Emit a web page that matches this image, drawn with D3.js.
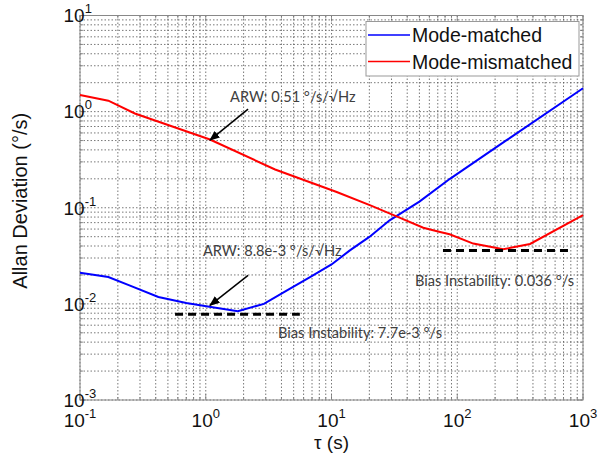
<!DOCTYPE html>
<html>
<head>
<meta charset="utf-8">
<script src="https://cdn.jsdelivr.net/npm/d3@7"></script>
<style>
  body { margin: 0; background: #fff; }
  svg { display: block; font-family: "Liberation Sans", Arial, sans-serif; }
</style>
</head>
<body>
<div id="graphic"></div>
<script>
// Allan deviation data
var tauMatched  = [0.1, 0.168, 0.25, 0.42, 0.7, 1.1, 1.8, 2.9, 4.5, 6.75, 10, 14, 20, 29, 50, 87.5, 247, 1000];
var adevMatched = [0.0211, 0.019, 0.0155, 0.0118, 0.0102, 0.0093, 0.0084, 0.0100, 0.014, 0.019, 0.0257, 0.036, 0.0497, 0.074, 0.116, 0.20, 0.505, 1.75];

var tauMismatched  = [0.1, 0.168, 0.273, 1.08, 3.56, 11, 20.4, 34, 53.7, 73, 87, 134, 232, 379, 1000];
var adevMismatched = [1.49, 1.30, 0.957, 0.513, 0.25, 0.146, 0.106, 0.080, 0.062, 0.056, 0.053, 0.0424, 0.037, 0.042, 0.0836];

var seriesNames = ['Mode-matched', 'Mode-mismatched'];
var seriesColors = ['#0000ff', '#ff0000'];

var xTickExps = [-1, 0, 1, 2, 3];
var yTickExps = [-3, -2, -1, 0, 1];

// bias instability levels (tau range + value)
var biasLines = [
  {tau0: 0.57, tau1: 5.6, value: 0.0078},
  {tau0: 77, tau1: 764, value: 0.036}
];

// annotations, positioned in data coordinates
var notes = [
  {tau: 1.56, value: 1.42, text: 'ARW: 0.51 \u00B0/s/\u221AHz'},
  {tau: 0.95, value: 0.0352, text: 'ARW: 8.8e-3 \u00B0/s/\u221AHz'},
  {tau: 3.76, value: 0.00505, text: 'Bias Instability: 7.7e-3 \u00B0/s'},
  {tau: 46.1, value: 0.01714, text: 'Bias Instability: 0.036 \u00B0/s'}
];
var arrows = [
  {tau0: 2.17, v0: 1.06, tau1: 1.08, v1: 0.505},
  {tau0: 2.17, v0: 0.0198, tau1: 1.08, v1: 0.00964}
];

var W = 613, H = 453;
var margin = {top: 15.5, right: 30, bottom: 53, left: 80};
var width = W - margin.left - margin.right,
    height = H - margin.top - margin.bottom;

var svg = d3.select('#graphic').append('svg')
    .attr('width', W).attr('height', H);

var defs = svg.append('defs');
defs.append('marker')
    .attr('id', 'arrowhead')
    .attr('viewBox', '0 0 10 10')
    .attr('refX', 9).attr('refY', 5)
    .attr('markerWidth', 7).attr('markerHeight', 7)
    .attr('orient', 'auto')
  .append('path')
    .attr('d', 'M0,1 L10,5 L0,9 z')
    .attr('fill', '#000');

var g = svg.append('g')
    .attr('transform', 'translate(' + margin.left + ',' + margin.top + ')');

var x = d3.scaleLog().domain([0.1, 1000]).range([0, width]);
var y = d3.scaleLog().domain([0.001, 10]).range([height, 0]);

// minor + major tick values
var xAll = [], yAll = [];
for (var e = -1; e < 3; e++) for (var k = 1; k < 10; k++) xAll.push(k * Math.pow(10, e));
xAll.push(1000);
for (var e2 = -3; e2 < 1; e2++) for (var k2 = 1; k2 < 10; k2++) yAll.push(k2 * Math.pow(10, e2));
yAll.push(10);

// grid
g.append('g').selectAll('line').data(xAll).enter().append('line')
    .attr('x1', function(d) { return x(d); }).attr('x2', function(d) { return x(d); })
    .attr('y1', 0).attr('y2', height)
    .attr('stroke', '#555').attr('stroke-width', 0.8).attr('stroke-dasharray', '1.5,2');
g.append('g').selectAll('line').data(yAll).enter().append('line')
    .attr('y1', function(d) { return y(d); }).attr('y2', function(d) { return y(d); })
    .attr('x1', 0).attr('x2', width)
    .attr('stroke', '#555').attr('stroke-width', 0.8).attr('stroke-dasharray', '1.5,2');

// inner ticks on all sides
function isMajor(v) { return Math.abs(Math.log10(v) - Math.round(Math.log10(v))) < 1e-9; }
var tk = g.append('g').attr('stroke', '#777').attr('stroke-width', 0.8);
xAll.forEach(function(v) {
  var len = isMajor(v) ? 6 : 3;
  tk.append('line').attr('x1', x(v)).attr('x2', x(v)).attr('y1', height).attr('y2', height - len);
  tk.append('line').attr('x1', x(v)).attr('x2', x(v)).attr('y1', 0).attr('y2', len);
});
yAll.forEach(function(v) {
  var len = isMajor(v) ? 6 : 3;
  tk.append('line').attr('y1', y(v)).attr('y2', y(v)).attr('x1', 0).attr('x2', len);
  tk.append('line').attr('y1', y(v)).attr('y2', y(v)).attr('x1', width).attr('x2', width - len);
});

// frame
g.append('rect')
    .attr('width', width).attr('height', height)
    .attr('fill', 'none').attr('stroke', '#888').attr('stroke-width', 1);

// tick labels
var yLab = g.append('g').selectAll('text').data(yTickExps).enter().append('text')
    .attr('x', -16.5).attr('y', function(d) { return y(Math.pow(10, d)); })
    .attr('dy', '0.36em')
    .attr('font-size', 19).attr('fill', '#111');
yLab.append('tspan').text('10');
yLab.append('tspan').attr('dy', -9).attr('font-size', 13).text(function(d) { return d; });

var xLab = g.append('g').selectAll('text').data(xTickExps).enter().append('text')
    .attr('x', function(d) { return x(Math.pow(10, d)); })
    .attr('y', height + 26.5)
    .attr('text-anchor', 'middle')
    .attr('font-size', 19).attr('fill', '#111');
xLab.append('tspan').text('10');
xLab.append('tspan').attr('dy', -9).attr('font-size', 13).text(function(d) { return d; });

// axis titles
g.append('text')
    .attr('x', width / 2).attr('y', height + 48.5)
    .attr('text-anchor', 'middle')
    .attr('font-size', 19).attr('fill', '#111')
    .text('\u03C4 (s)');
g.append('text')
    .attr('transform', 'rotate(-90)')
    .attr('x', -(height / 2) + 7).attr('y', -53)
    .attr('text-anchor', 'middle')
    .attr('font-size', 20).attr('fill', '#111')
    .text('Allan Deviation (\u00B0/s)');

// curves
var line = d3.line()
    .x(function(d) { return x(d[0]); })
    .y(function(d) { return y(d[1]); });

var series = [d3.zip(tauMatched, adevMatched), d3.zip(tauMismatched, adevMismatched)];
series.forEach(function(s, i) {
  g.append('path')
      .datum(s)
      .attr('fill', 'none')
      .attr('stroke', seriesColors[i])
      .attr('stroke-width', 2)
      .attr('d', line);
});

// bias instability dashed lines
g.append('g').selectAll('line').data(biasLines).enter().append('line')
    .attr('x1', function(d) { return x(d.tau0); }).attr('x2', function(d) { return x(d.tau1); })
    .attr('y1', function(d) { return y(d.value); }).attr('y2', function(d) { return y(d.value); })
    .attr('stroke', '#000').attr('stroke-width', 3).attr('stroke-dasharray', '8,5');

// arrows
g.append('g').selectAll('line').data(arrows).enter().append('line')
    .attr('x1', function(d) { return x(d.tau0); }).attr('y1', function(d) { return y(d.v0); })
    .attr('x2', function(d) { return x(d.tau1); }).attr('y2', function(d) { return y(d.v1); })
    .attr('stroke', '#000').attr('stroke-width', 1.5)
    .attr('marker-end', 'url(#arrowhead)');

// annotation text
g.append('g').selectAll('text').data(notes).enter().append('text')
    .attr('x', function(d) { return x(d.tau); })
    .attr('y', function(d) { return y(d.value); })
    .attr('dy', '0.35em')
    .attr('font-family', 'Lato, "Open Sans", sans-serif')
    .attr('font-size', 14.6)
    .attr('fill', '#404040')
    .text(function(d) { return d.text; });

// legend
var lg = svg.append('g').attr('transform', 'translate(366,21.5)');
lg.append('rect')
    .attr('width', 213).attr('height', 54.5)
    .attr('fill', '#fff').attr('stroke', '#999').attr('stroke-width', 1);
seriesNames.forEach(function(name, i) {
  var yy = 13.5 + i * 26.5;
  lg.append('line')
      .attr('x1', 2).attr('x2', 44).attr('y1', yy).attr('y2', yy)
      .attr('stroke', seriesColors[i]).attr('stroke-width', 1.5);
  lg.append('text')
      .attr('x', 46).attr('y', yy).attr('dy', '0.36em')
      .attr('font-size', 19.5).attr('fill', '#111')
      .text(name);
});
</script>
</body>
</html>
